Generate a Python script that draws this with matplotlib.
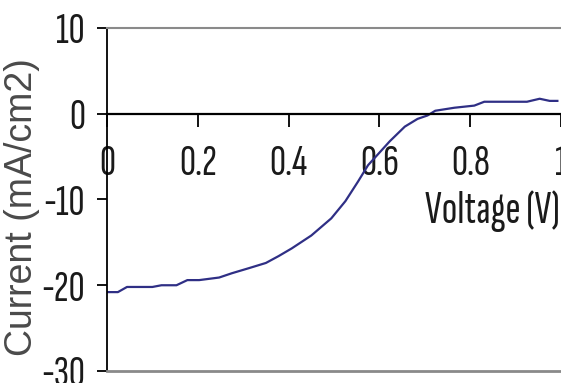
import matplotlib.pyplot as plt

# J-V curve of the cell under illumination
voltage = [0.0, 0.024, 0.044, 0.10, 0.12, 0.153, 0.177, 0.203, 0.247, 0.275,
           0.313, 0.35, 0.378, 0.407, 0.45, 0.494, 0.525, 0.553, 0.575, 0.623,
           0.656, 0.684, 0.706, 0.723, 0.765, 0.809, 0.831, 0.925, 0.953,
           0.975, 0.992]
current = [-20.8, -20.8, -20.2, -20.2, -20.0, -20.0, -19.4, -19.4, -19.1, -18.6,
           -18.0, -17.4, -16.6, -15.7, -14.2, -12.2, -10.2, -7.9, -6.0, -3.2,
           -1.5, -0.6, -0.2, 0.35, 0.7, 0.95, 1.4, 1.4, 1.75,
           1.5, 1.5]

xticks = [0, 0.2, 0.4, 0.6, 0.8, 1.0]
xticklabels = ['0', '0.2', '0.4', '0.6', '0.8', '1']
yticks = [-30, -20, -10, 0, 10]
yticklabels = ['-30', '-20', '-10', '0', '10']

narrow = ['Sofia Sans Extra Condensed', 'DejaVu Sans']

W, H = 561, 383
fig = plt.figure(figsize=(W / 100, H / 100), dpi=100)
ax = fig.add_axes([107 / W, 12 / H, 1 - 107 / W, 343 / H])

ax.plot(voltage, current, color='#2f2f85', lw=1.6)

ax.set_xlim(0, 454 / 457.5)
ax.set_ylim(-30, 10)

ax.spines['right'].set_visible(False)
ax.spines['top'].set_color('#8a8a8a')
ax.spines['top'].set_linewidth(1.5)
ax.spines['left'].set_linewidth(1.3)
ax.spines['bottom'].set_position(('data', 0))
ax.spines['bottom'].set_linewidth(1.6)
ax.axhline(-30, color='#8a8a8a', lw=2.0, clip_on=False, zorder=3)

ax.set_xticks(xticks)
ax.set_xticklabels(xticklabels, family=narrow, fontsize=32, color='#1a1a1a')
ax.set_yticks(yticks)
ax.set_yticklabels(yticklabels, family=narrow, fontsize=32, color='#1a1a1a')
ax.tick_params(axis='x', direction='out', length=9, width=1.3, pad=13)
ax.tick_params(axis='y', direction='out', length=7, width=1.3, pad=9)

ax.text(0.70, -11.3, 'Voltage (V)', family=narrow, fontsize=33,
        color='#1a1a1a', ha='left', va='center')
fig.text(22 / W, 1 - 207 / H, 'Current (mA/cm2)', family='Liberation Sans',
         fontsize=27, color='#4a4a4a', rotation=90, ha='center', va='center')

fig.savefig('out.png', dpi=100)
